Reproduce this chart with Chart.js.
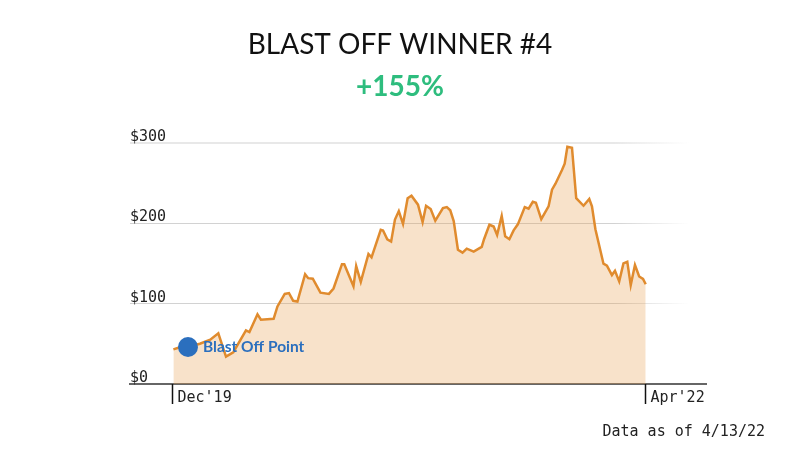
<!DOCTYPE html>
<html>
<head>
<meta charset="utf-8">
<title>Blast Off Winner #4</title>
<script src="https://cdn.jsdelivr.net/npm/chart.js@4.4.1/dist/chart.umd.min.js"></script>
<style>
  html, body { margin: 0; padding: 0; background: #fff; }
  #chart { display: block; }
</style>
</head>
<body>
<canvas id="chart" width="800" height="450"></canvas>
<script>
// Weekly closing prices, week 0 = first week of Dec 2019
const weeks = [
  0, 1.3, 3.8, 6.9, 9.6, 11.7, 13.7, 15.6, 18.9, 19.8,
  21.9, 22.8, 26.1, 27.1, 29, 30.1, 31.2, 32.3, 34.3, 35.1,
  36.3, 38.3, 40.5, 41.7, 43.9, 44.5, 46.9, 47.6, 48.8, 50.8,
  51.6, 54, 54.6, 55.7, 56.7, 57.7, 58.7, 59.8, 61, 62,
  63.7, 64.9, 65.8, 67, 68.2, 70.2, 71.2, 72.1, 73, 74.1,
  75.3, 76.4, 78.2, 80.3, 80.9, 82.3, 83.4, 84.3, 85.5, 86.4,
  87.5, 88.6, 89.7, 91.5, 92.5, 93.6, 94.4, 95.8, 97.7, 98.6,
  99.5, 101.2, 101.9, 102.6, 103.8, 104.9, 106.8, 108.3, 109, 109.9,
  112, 112.9, 114.2, 115, 116.1, 117.2, 118.2, 119.1, 120.2, 121.3,
  122.3, 123
];
const prices = [
  43, 45, 46, 50, 55, 63, 34, 39.5, 66.6, 64.5,
  86.6, 80, 81, 96.5, 112, 113, 103.5, 102.6, 136.6, 131.6,
  131, 113.5, 112, 118.7, 149, 149, 121.6, 146.6, 127, 161.6,
  157.5, 191.6, 190.8, 179.8, 177, 204.5, 215, 199, 231, 234,
  223, 201.4, 221.6, 217.5, 203, 218.7, 220, 216, 202.6, 167,
  163.3, 168.3, 164.5, 170.4, 180, 198, 195.8, 185.4, 209, 183.7,
  180, 191, 198.5, 220, 218, 226.6, 225.4, 205, 220.8, 241.6,
  249, 266, 274, 295, 293.7, 231, 221.6, 230, 220.8, 192.5,
  149.6, 147.2, 135.4, 140.8, 127.6, 150, 152, 123, 148, 133.7,
  130.6, 124
];

const blastWeek = 3.8;
const blastPrice = 46;
const blastLabel = 'Blast Off Point';

const xTickWeeks = [0, 123];
const xTickLabels = ["Dec'19", "Apr'22"];
const yTickValues = [0, 100, 200, 300];
const yTickLabels = ['$0', '$100', '$200', '$300'];

const TITLE = 'BLAST OFF WINNER #4';
const SUBTITLE = '+155%';
const FOOTNOTE = 'Data as of 4/13/22';

const MONO = "'DejaVu Sans Mono', 'Liberation Mono', monospace";
const SANS = "Lato, 'Open Sans', sans-serif";
const LINE_COLOR = '#e08b2e';
const BLUE = '#2b6fbe';

/**
 * Draws the axis text, tick marks, point label and footnote
 */
const annotationsPlugin = {
  id: 'annotations',
  afterDraw(chart) {
    const { ctx, scales: { x, y } } = chart;
    const area = chart.chartArea;
    ctx.save();

    // y labels sit just above their grid line
    ctx.font = `15px ${MONO}`;
    ctx.fillStyle = '#222';
    ctx.textAlign = 'left';
    ctx.textBaseline = 'alphabetic';
    yTickValues.forEach((v, i) => {
      ctx.fillText(yTickLabels[i], area.left, y.getPixelForValue(v) - 2);
    });

    // x tick marks with labels to their right
    ctx.strokeStyle = '#111';
    ctx.lineWidth = 1.5;
    ctx.textBaseline = 'middle';
    xTickWeeks.forEach((w, i) => {
      const px = Math.round(x.getPixelForValue(w)) - 0.5;
      ctx.beginPath();
      ctx.moveTo(px, area.bottom);
      ctx.lineTo(px, area.bottom + 20);
      ctx.stroke();
      ctx.fillText(xTickLabels[i], px + 5, area.bottom + 14);
    });

    // blast off label
    const bx = x.getPixelForValue(blastWeek);
    const by = y.getPixelForValue(blastPrice);
    ctx.font = `bold 15.5px ${SANS}`;
    ctx.fillStyle = BLUE;
    ctx.textBaseline = 'middle';
    ctx.fillText(blastLabel, bx + 15, by);

    // footnote
    ctx.font = `15px ${MONO}`;
    ctx.fillStyle = '#222';
    ctx.textAlign = 'right';
    ctx.fillText(FOOTNOTE, 765, 432);

    ctx.restore();
  },
};

function gridColor(context) {
  const v = context.tick && context.tick.value;
  if (v === 0) return 'rgba(0,0,0,0)';
  const chart = context.chart;
  const area = chart.chartArea;
  if (!area) return '#d6d6d6';
  const base = v === 300 ? '232,232,232' : '210,210,210';
  const g = chart.ctx.createLinearGradient(area.left, 0, area.right, 0);
  g.addColorStop(0, `rgba(${base},1)`);
  g.addColorStop(0.84, `rgba(${base},1)`);
  g.addColorStop(0.97, `rgba(${base},0)`);
  g.addColorStop(1, `rgba(${base},0)`);
  return g;
}

const ctx = document.getElementById('chart').getContext('2d');
new Chart(ctx, {
  type: 'line',
  data: {
    datasets: [
      {
        label: 'Blast off',
        data: [{ x: blastWeek, y: blastPrice }],
        showLine: false,
        pointRadius: 10,
        pointBackgroundColor: BLUE,
        pointBorderColor: BLUE,
        borderWidth: 0,
        order: 0,
      },
      {
        label: 'Price',
        data: weeks.map((w, i) => ({ x: w, y: prices[i] })),
        borderColor: LINE_COLOR,
        borderWidth: 2.5,
        backgroundColor: 'rgba(232, 160, 80, 0.3)',
        fill: 'origin',
        pointRadius: 0,
        tension: 0,
        order: 1,
      },
    ],
  },
  options: {
    responsive: false,
    devicePixelRatio: 1,
    animation: false,
    events: [],
    layout: { padding: { left: 0, right: 0, top: 0, bottom: 66 } },
    plugins: {
      legend: { display: false },
      tooltip: { enabled: false },
      title: {
        display: true,
        text: TITLE,
        color: '#111',
        font: { family: SANS, size: 28, weight: 'normal' },
        padding: { top: 28, bottom: 6 },
      },
      subtitle: {
        display: true,
        text: SUBTITLE,
        color: '#2ebd7e',
        font: { family: SANS, size: 28, weight: 'bold' },
        padding: { top: 3, bottom: 38.5 },
      },
    },
    scales: {
      x: {
        type: 'linear',
        min: -11.3,
        max: 138.7,
        ticks: { display: false },
        grid: { display: false, drawTicks: false },
        border: { display: true, color: '#666', width: 2 },
      },
      y: {
        min: 0,
        max: 300,
        ticks: { display: false, stepSize: 100 },
        grid: { color: gridColor, lineWidth: (c) => (c.tick && c.tick.value === 300 ? 2 : 1), drawTicks: false },
        border: { display: false },
        afterFit: (scale) => { scale.width = 130; },
      },
      yRight: {
        position: 'right',
        min: 0,
        max: 300,
        ticks: { display: false },
        grid: { display: false, drawTicks: false },
        border: { display: false },
        afterFit: (scale) => { scale.width = 94; },
      },
    },
  },
  plugins: [annotationsPlugin],
});
</script>
</body>
</html>
